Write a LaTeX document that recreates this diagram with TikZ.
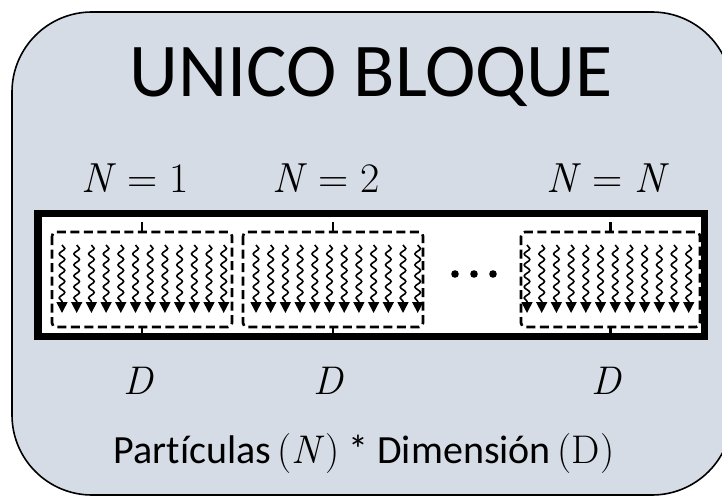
\documentclass[tikz,border=0pt]{standalone}
\usepackage[no-math]{fontspec}
\newfontfamily\carl[Ligatures=NoCommon]{Carlito}
\usetikzlibrary{decorations.pathmorphing,arrows.meta}
\definecolor{panel}{HTML}{D6DCE5}
\newcommand{\eqsp}{\hspace{0.28em}=\hspace{0.28em}}
\begin{document}
\begin{tikzpicture}[x=1pt,y=-1pt,
  lab/.style={font=\fontsize{42}{46}\selectfont, anchor=base, inner sep=0pt},
  dlab/.style={font=\fontsize{40}{44}\selectfont, anchor=base, inner sep=0pt},
  dbox/.style={draw, line width=2.6pt, dash pattern=on 9pt off 4.5pt, rounded corners=4pt},
  wave/.style={line width=1.6pt, -{Triangle[width=11pt,length=11pt]},
    decorate, decoration={snake, amplitude=2.8pt, segment length=11pt, post length=11pt}},
  tick/.style={line width=2.6pt}]
\useasboundingbox (0,0) rectangle (722,497);
% panel
\draw[fill=panel, line width=1.6pt, rounded corners=80pt] (12,12) rectangle (732,495);
% title
\node[font=\carl\fontsize{76}{80}\selectfont, anchor=base, inner sep=0pt] (title) at (371,97) {UNICO BLOQUE};
% N labels
\node[lab] (n1) at (135,193) {\textit{N}\eqsp 1};
\node[lab] (n2) at (326,193) {\textit{N}\eqsp 2};
\node[lab] (nn) at (608,193) {\textit{N}\eqsp\textit{N}};
% strip
\draw[fill=white, line width=7.5pt] (38,213.5) rectangle (704.5,336.5);
% dashed blocks
\foreach \l/\r/\s in {52/232/62, 243/423/256, 521/700/527}{
  \draw[dbox] (\l,232) rectangle (\r,327);
  \pgfmathsetmacro{\c}{(\l+\r)/2}
  \draw[tick] (\c,222) -- (\c,232);
  \draw[tick] (\c,327) -- (\c,333);
  \foreach \i in {0,...,11}{
    \pgfmathsetmacro{\xx}{\s+14.7*\i}
    \draw[wave] (\xx,245) -- (\xx,313);
  }
}
% dots
\foreach \x in {455,474,493}{ \fill (\x,274) circle (3.8pt); }
% D labels
\node[dlab] (d1) at (139,394) {\textit{D}};
\node[dlab] (d2) at (329,394) {\textit{D}};
\node[dlab] (d3) at (607,394) {\textit{D}};
% bottom caption
\node[font=\carl\fontsize{40}{44}\selectfont, anchor=base, inner sep=0pt] (cap) at (364,463) {Part\kern0ptículas\,{\rmfamily(\textit{N})} * Dimensión\,{\rmfamily(D)}};
\end{tikzpicture}
\end{document}
